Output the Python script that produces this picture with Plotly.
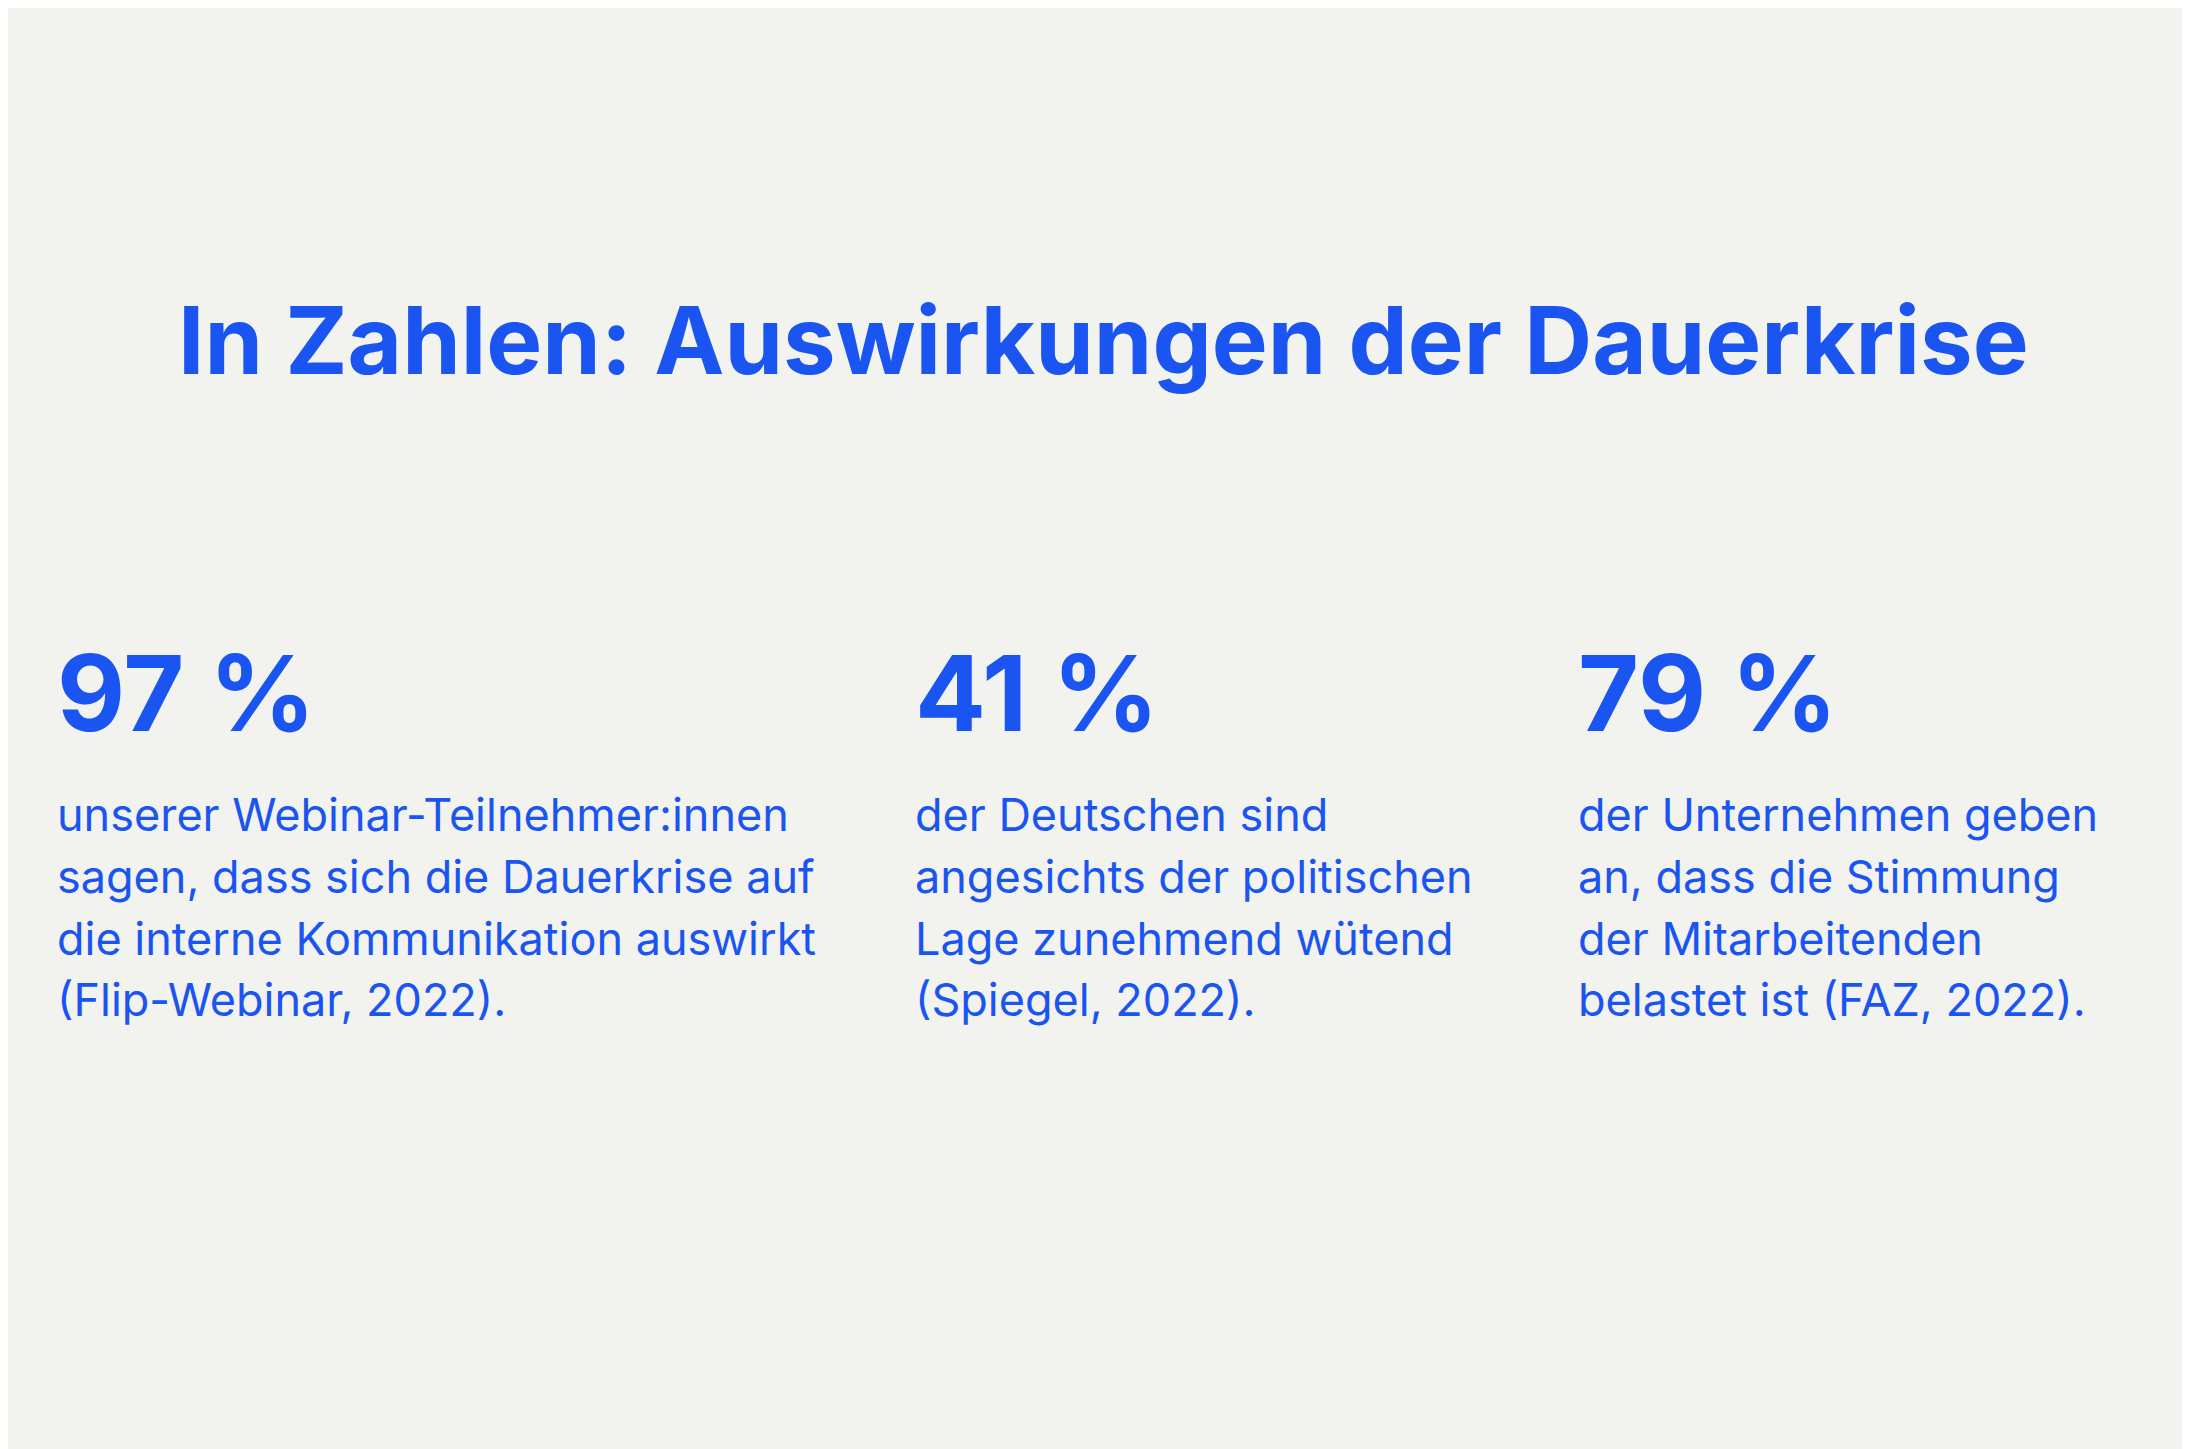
import plotly.graph_objects as go

# Data
title = "In Zahlen: Auswirkungen der Dauerkrise"
values = [97, 41, 79]
descriptions = [
    ["unserer Webinar-Teilnehmer:innen", "sagen, dass sich die Dauerkrise auf",
     "die interne Kommunikation auswirkt", "(Flip-Webinar, 2022)."],
    ["der Deutschen sind", "angesichts der politischen",
     "Lage zunehmend wütend", "(Spiegel, 2022)."],
    ["der Unternehmen geben", "an, dass die Stimmung",
     "der Mitarbeitenden", "belastet ist (FAZ, 2022)."],
]

W, H = 2190, 1449
BLUE = "#1a55f2"
BG = "#f2f2ee"
col_x = [47, 905, 1568]

fig = go.Figure()
ann = [dict(text=f"<b>{title}</b>", x=0.5, y=1 - 332 / H, xref="paper", yref="paper",
            xanchor="center", yanchor="middle", showarrow=False,
            font=dict(family="Inter", size=94, color=BLUE))]

for i, (v, lines) in enumerate(zip(values, descriptions)):
    ann.append(dict(text=f"<b>{v} %</b>", x=col_x[i] / W, y=1 - 684 / H,
                    xref="paper", yref="paper", xanchor="left", yanchor="middle",
                    showarrow=False, font=dict(family="Inter", size=105, color=BLUE)))
    for j, line in enumerate(lines):
        ann.append(dict(text=line, x=col_x[i] / W, y=1 - (806 + 62 * j) / H,
                        xref="paper", yref="paper", xanchor="left", yanchor="middle",
                        showarrow=False, font=dict(family="Inter", size=45, color=BLUE)))

fig.update_layout(
    width=W, height=H, margin=dict(l=0, r=0, t=0, b=0),
    paper_bgcolor=BG, plot_bgcolor=BG,
    xaxis=dict(visible=False), yaxis=dict(visible=False),
    annotations=ann, showlegend=False,
)
fig.write_html("out.html")
